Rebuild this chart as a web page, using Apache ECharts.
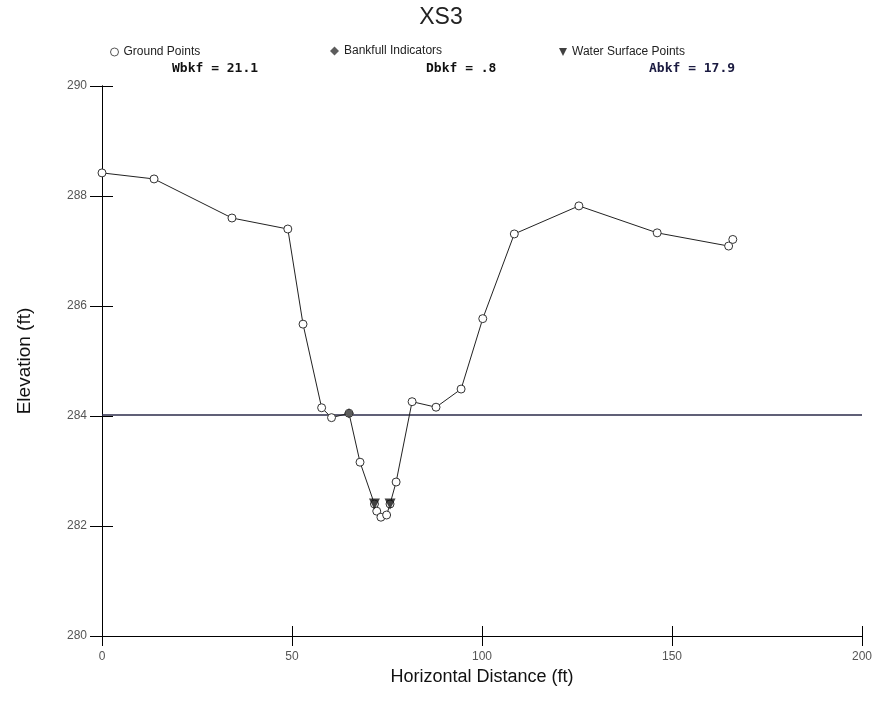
<!DOCTYPE html>
<html><head><meta charset="utf-8">
<script src="https://cdn.jsdelivr.net/npm/echarts@6/dist/echarts.min.js"></script>
<style>html,body{margin:0;padding:0;background:#fff}#c{width:882px;height:717px}</style>
</head><body><div id="c"></div>
<script>
const groundX = [0, 13.7, 34.2, 48.9, 52.9, 57.8, 60.4, 65.0, 67.9, 71.7, 72.3, 73.4, 74.9, 75.8, 77.4, 81.6, 87.9, 94.5, 100.2, 108.5, 125.5, 146.1, 164.9, 166.0];
const groundY = [288.42, 288.31, 287.6, 287.4, 285.67, 284.15, 283.97, 284.05, 283.16, 282.4, 282.27, 282.16, 282.2, 282.4, 282.8, 284.26, 284.16, 284.49, 285.77, 287.31, 287.82, 287.33, 287.09, 287.21];
const bankfullX = [65.0];
const bankfullY = [284.05];
const waterX = [71.7, 75.8];
const waterY = [282.4, 282.4];
const bkfLineX = [0, 200];
const bkfLineY = [284.02, 284.02];
const xTicks = [0, 50, 100, 150, 200];
const yTicks = [280, 282, 284, 286, 288, 290];
const stats = ["Wbkf = 21.1", "Dbkf = .8", "Abkf = 17.9"];

const zip = (a, b) => a.map((v, i) => [v, b[i]]);
const chart = echarts.init(document.getElementById('c'));
const grid = {left: 102, right: 20, top: 86, bottom: 81};
const axisBase = {
  axisLine: {show: true, lineStyle: {color: '#000', width: 1}},
  splitLine: {show: false}
};
const legFont = {fontFamily: 'Liberation Sans Narrow, Liberation Sans', fontSize: 12, color: '#222'};
const downTri = 'path://M0,0 L10,0 L5,10 Z';
chart.setOption({
  backgroundColor: '#fff',
  animation: false,
  title: {text: 'XS3', left: 'center', top: 1, textStyle: {fontFamily: 'Liberation Sans', fontSize: 23, fontWeight: 'normal', color: '#222'}},
  legend: [
    {data: [{name: 'Ground Points', icon: 'circle', itemStyle: {color: '#fff', borderWidth: 1, borderColor: '#555'}}], left: 105, top: 41, itemWidth: 8, itemHeight: 8, itemGap: 4, textStyle: legFont},
    {data: ['Bankfull Indicators'], left: 325, top: 40, itemWidth: 9, itemHeight: 9, textStyle: legFont},
    {data: [{name: 'Water Surface Points', icon: downTri}], left: 554, top: 41, itemWidth: 8, itemHeight: 8, textStyle: legFont}
  ],
  graphic: [
    {type: 'text', left: 172, top: 62, style: {text: stats[0], font: 'bold 13px "DejaVu Sans Mono"', fill: '#111'}},
    {type: 'text', left: 426, top: 62, style: {text: stats[1], font: 'bold 13px "DejaVu Sans Mono"', fill: '#111'}},
    {type: 'text', left: 649, top: 62, style: {text: stats[2], font: 'bold 13px "DejaVu Sans Mono"', fill: '#1a1a40'}}
  ],
  grid: grid,
  xAxis: [
    Object.assign({type: 'value', min: 0, max: 200, interval: 50, position: 'bottom',
      name: 'Horizontal Distance (ft)', nameLocation: 'middle', nameGap: 30,
      nameTextStyle: {fontFamily: 'Liberation Sans', fontSize: 18, color: '#111'},
      axisTick: {show: true, inside: false, length: 10, lineStyle: {color: '#000'}},
      axisLabel: {color: '#555', fontSize: 12, fontFamily: 'Liberation Sans Narrow, Liberation Sans', margin: 15,
        formatter: v => xTicks.includes(v) ? String(v) : ''}}, axisBase),
    Object.assign({type: 'value', min: 0, max: 200, interval: 50, position: 'bottom',
      axisTick: {show: true, inside: true, length: 10, lineStyle: {color: '#000'}},
      axisLabel: {show: false}}, axisBase)
  ],
  yAxis: [
    Object.assign({type: 'value', min: 280, max: 290, interval: 2, position: 'left',
      name: 'Elevation (ft)', nameLocation: 'middle', nameGap: 68, nameRotate: 90,
      nameTextStyle: {fontFamily: 'Liberation Sans', fontSize: 19, color: '#111'},
      axisTick: {show: true, inside: false, length: 12, lineStyle: {color: '#000'}},
      axisLabel: {color: '#555', fontSize: 12, fontFamily: 'Liberation Sans Narrow, Liberation Sans', margin: 15,
        formatter: v => yTicks.includes(v) ? String(v) : ''}}, axisBase),
    Object.assign({type: 'value', min: 280, max: 290, interval: 2, position: 'left',
      axisTick: {show: true, inside: true, length: 11, lineStyle: {color: '#000'}},
      axisLabel: {show: false}}, axisBase)
  ],
  series: [
    {name: 'Bankfull Line', type: 'line', data: zip(bkfLineX, bkfLineY), symbol: 'none',
      lineStyle: {color: '#2b2b4a', width: 1.5}, z: 1, silent: true},
    {name: 'Ground Points', type: 'line', data: zip(groundX, groundY), symbol: 'circle', symbolSize: 8,
      itemStyle: {color: '#fff', borderColor: '#333', borderWidth: 1},
      lineStyle: {color: '#222', width: 1}, z: 2},
    {name: 'Bankfull Indicators', type: 'scatter', data: zip(bankfullX, bankfullY), symbol: 'diamond', symbolSize: 10,
      itemStyle: {color: '#333'}, zlevel: 1, z: 3},
    {name: 'Water Surface Points', type: 'scatter', data: zip(waterX, waterY), symbol: downTri, symbolSize: 11,
      itemStyle: {color: '#111'}, zlevel: 1, z: 4}
  ]
});
</script></body></html>
